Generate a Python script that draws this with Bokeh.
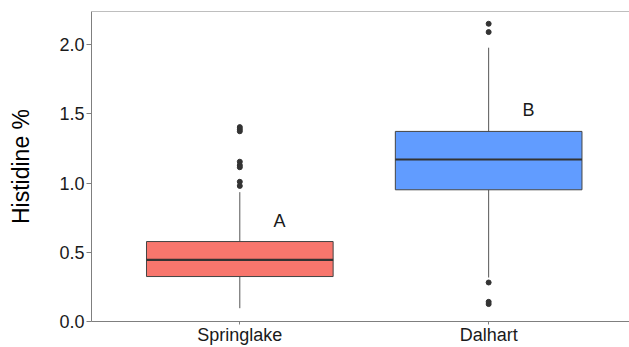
from bokeh.plotting import figure
from bokeh.models import ColumnDataSource, FixedTicker, Span, NumeralTickFormatter
from bokeh.core.properties import value
from bokeh.embed import file_html
from bokeh.resources import INLINE

# ---- data ----
categories = ["Springlake", "Dalhart"]
positions = [1, 2]
q1 = [0.325, 0.952]
median = [0.446, 1.171]
q3 = [0.578, 1.374]
lower_whisker = [0.096, 0.318]
upper_whisker = [0.935, 1.979]
fill_colors = ["#F8766D", "#619CFF"]

springlake_outliers = [1.405, 1.39, 1.375, 1.155, 1.13, 1.115, 1.01, 0.98]
dalhart_outliers = [2.152, 2.092, 0.282, 0.142, 0.126]

letters = ["A", "B"]
letter_y = [0.723, 1.526]
letter_offset = 0.16

y_ticks = [0.0, 0.5, 1.0, 1.5, 2.0]

FONT = "Liberation Sans"

box_width = 0.75
half = box_width / 2
y_top = 2.2407

src = ColumnDataSource(dict(
    x=positions, q1=q1, q3=q3, med=median, lo=lower_whisker, hi=upper_whisker,
    left=[p - half for p in positions], right=[p + half for p in positions],
    color=fill_colors,
))

p = figure(width=629, height=347, output_backend="svg", toolbar_location=None,
           x_range=(0.404, 2.566), y_range=(0.0, y_top),
           min_border_left=91, min_border_right=0, min_border_top=11, min_border_bottom=26)

p.background_fill_color = "white"
p.border_fill_color = "white"
p.outline_line_color = None
p.xgrid.visible = False
p.ygrid.visible = False

# top border line
p.add_layout(Span(location=y_top, dimension="width", line_color="#7f7f7f", line_width=1))

# whiskers
p.segment(x0="x", y0="q3", x1="x", y1="hi", source=src, line_color="#555555", line_width=1)
p.segment(x0="x", y0="q1", x1="x", y1="lo", source=src, line_color="#555555", line_width=1)

# boxes
p.vbar(x="x", width=box_width, top="q3", bottom="q1", source=src,
       fill_color="color", line_color="#444444", line_width=1)

# medians
p.segment(x0="left", y0="med", x1="right", y1="med", source=src,
          line_color="#333333", line_width=2.2)

# outliers
ox = [positions[0]] * len(springlake_outliers) + [positions[1]] * len(dalhart_outliers)
oy = springlake_outliers + dalhart_outliers
p.scatter(ox, oy, size=5, fill_color="#333333", line_color="#333333")

# letters
p.text([pp + letter_offset for pp in positions], letter_y, text=letters,
       text_font=value(FONT), text_font_size="18px", text_color="#1a1a1a",
       text_align="center", text_baseline="middle")

# axes
for ax in (p.xaxis[0], p.yaxis[0]):
    ax.axis_line_color = "#7f7f7f"
    ax.major_tick_line_color = "#7f7f7f"
    ax.major_tick_out = 5
    ax.major_tick_in = 0
    ax.minor_tick_line_color = None
    ax.major_label_text_font = FONT
    ax.major_label_text_font_size = "18px"
    ax.major_label_text_color = "#1a1a1a"

p.xaxis.ticker = FixedTicker(ticks=positions)
p.xaxis.major_label_overrides = {pos: c for pos, c in zip(positions, categories)}
p.xaxis.major_label_standoff = 0
p.xaxis.major_tick_out = 3

p.yaxis.ticker = FixedTicker(ticks=y_ticks)
p.yaxis.formatter = NumeralTickFormatter(format="0.0")
p.yaxis.major_label_standoff = 2
p.yaxis.axis_label = "Histidine %"
p.yaxis.axis_label_text_font = FONT
p.yaxis.axis_label_text_font_size = "23px"
p.yaxis.axis_label_text_font_style = "normal"
p.yaxis.axis_label_text_color = "#000000"
p.yaxis.axis_label_standoff = 22

open("out.html", "w").write(file_html(p, INLINE))
